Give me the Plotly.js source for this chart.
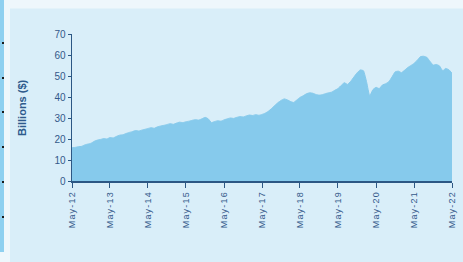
<!DOCTYPE html>
<html><head><meta charset="utf-8">
<script src="https://cdn.plot.ly/plotly-3.0.1.min.js"></script>
<style>html,body{margin:0;padding:0;background:#d9eef9;}#chart{width:463px;height:262px;}
#chart .xtick text{letter-spacing:1.2px;}</style>
</head><body><div id="chart"></div>
<script>
// Monthly values, May 2012 .. May 2022 (billions $)
const startYear = 2012, startMonth = 5;
const values = [
  15.8, 16.0, 16.3, 16.5, 17.2, 17.6, 18.0, 18.9, 19.5, 19.8, 20.2, 20.0, 20.7,
  20.5, 21.2, 21.8, 22.0, 22.6, 23.1, 23.5, 24.0, 23.8, 24.2, 24.6, 25.0,
  25.4, 25.1, 25.8, 26.2, 26.5, 26.9, 27.3, 27.0, 27.6, 28.0, 27.8, 28.2,
  28.5, 28.9, 29.2, 29.0, 29.6, 30.3, 29.6, 27.8, 28.3, 28.7, 28.5, 29.1,
  29.6, 30.0, 29.8, 30.3, 30.7, 30.5, 31.0, 31.4, 31.2, 31.6, 31.3, 31.7,
  32.3, 33.2, 34.5, 36.0, 37.3, 38.4, 39.1, 38.6, 37.8, 37.4, 38.6, 39.8,
  40.6, 41.5, 42.0, 41.8, 41.2, 40.9, 41.1, 41.6, 42.0, 42.3, 43.2, 44.0,
  45.5, 46.8, 46.0, 47.5, 49.5, 51.5, 52.9, 52.5, 47.0, 40.5, 43.5, 44.6,
  44.0, 45.7, 46.3, 47.3, 49.5, 52.0, 52.3, 51.6, 52.8, 54.0, 55.0, 56.0,
  57.5, 59.2, 59.4, 58.9, 57.0, 55.2, 55.5, 54.8, 52.5, 53.6, 53.0, 51.3
];
const tickDates = ['2012-05-01','2013-05-01','2014-05-01','2015-05-01','2016-05-01','2017-05-01','2018-05-01','2019-05-01','2020-05-01','2021-05-01','2022-05-01'];
const tickLabels = ['May-12','May-13','May-14','May-15','May-16','May-17','May-18','May-19','May-20','May-21','May-22'];
const yTicks = [0,10,20,30,40,50,60,70];

const dates = values.map((v,i)=>{
  const m0 = startMonth - 1 + i;
  const y = startYear + Math.floor(m0/12);
  const m = (m0 % 12) + 1;
  return y + '-' + String(m).padStart(2,'0') + '-01';
});

const axisColor = '#2c5784';
const textColor = '#34598a';

const trace = {
  x: dates, y: values, type: 'scatter', mode: 'lines',
  fill: 'tozeroy', fillcolor: '#86caec',
  line: {color: '#86caec', width: 1, shape: 'spline', smoothing: 0.4},
  hoverinfo: 'skip'
};

// decorative frame (paper coords relative to plot area 72..452 x, 34..181 y)
const px = p => (p-72)/380, py = p => (181-p)/147;
const shapes = [
  {type:'rect', xref:'paper', yref:'paper', x0:px(-5), x1:px(470), y0:py(8.5), y1:py(-5), fillcolor:'#eef7fc', line:{width:0}, layer:'below'},
  {type:'rect', xref:'paper', yref:'paper', x0:px(-5), x1:px(10), y0:py(270), y1:py(-5), fillcolor:'#eef7fc', line:{width:0}, layer:'below'},
  {type:'rect', xref:'paper', yref:'paper', x0:px(-5), x1:px(4), y0:py(252), y1:py(-5), fillcolor:'#8fd0f0', line:{width:0}, layer:'below'}
];
[43,78,112,147,182,217].forEach(d=>{
  shapes.push({type:'rect', xref:'paper', yref:'paper', x0:px(2), x1:px(4), y0:py(d+1), y1:py(d-1), fillcolor:'#1a1a1a', line:{width:0}, layer:'below'});
});

const layout = {
  width: 463, height: 262,
  margin: {l:72, r:11, t:34, b:81},
  paper_bgcolor: '#d9eef9', plot_bgcolor: '#d9eef9',
  showlegend: false,
  font: {family: '"Liberation Sans Narrow", "Liberation Sans", Arial, sans-serif', color: textColor},
  xaxis: {
    type: 'date', range: ['2012-05-01','2022-05-01'],
    tickvals: tickDates, ticktext: tickLabels, tickangle: -90,
    tickfont: {size: 9, color: textColor, family: '"Liberation Sans", Arial, sans-serif'},
    showgrid: false, zeroline: false,
    showline: true, linecolor: axisColor, linewidth: 1.5,
    ticks: 'outside', ticklen: 5, tickcolor: axisColor, tickwidth: 1
  },
  yaxis: {
    range: [0,70], tickvals: yTicks,
    tickfont: {size: 10, color: textColor},
    showgrid: false, zeroline: false,
    showline: true, linecolor: axisColor, linewidth: 1.5,
    ticks: 'outside', ticklen: 3, tickcolor: axisColor, tickwidth: 1
  },
  shapes: shapes,
  annotations: [{
    text: '<b>Billions ($)</b>', xref:'paper', yref:'paper',
    x: px(22), y: py(108), textangle: -90, showarrow: false,
    font: {size: 11, color: '#2e5a8c', family: '"Liberation Sans", Arial, sans-serif'},
    xanchor: 'center', yanchor: 'middle'
  }]
};

Plotly.newPlot('chart', [trace], layout, {displayModeBar: false, staticPlot: true});
</script></body></html>
